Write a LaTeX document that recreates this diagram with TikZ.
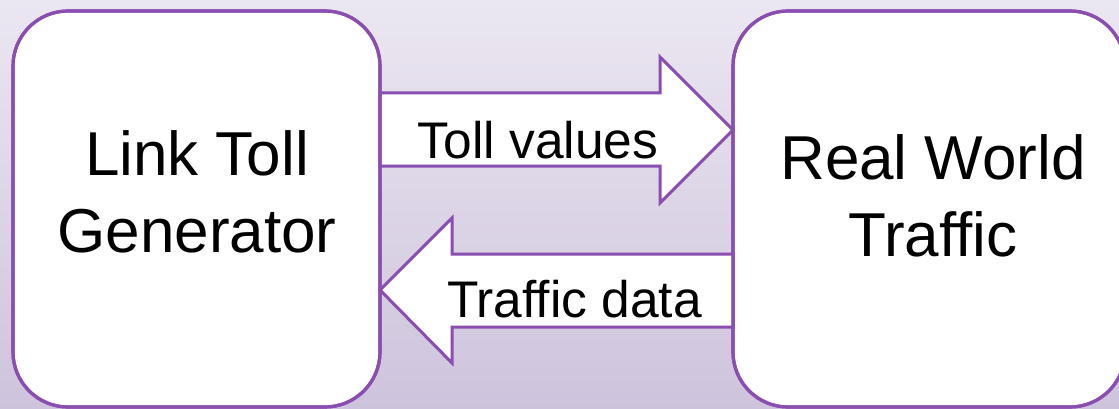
\documentclass[tikz,border=0pt]{standalone}
\usepackage{fontspec}
\setmainfont{Liberation Sans}
\usetikzlibrary{calc}
\definecolor{bord}{HTML}{8A4DB0}
\definecolor{bgtop}{HTML}{EBE7F1}
\definecolor{bgbot}{HTML}{CEC3DC}
\tikzset{
  box/.style={draw=bord, line width=3.2pt, fill=white, rounded corners=55pt, inner sep=0pt, outer sep=0pt},
  boxtext/.style={font=\fontsize{62}{77}\selectfont, align=center, inner sep=0pt},
  arrtext/.style={font=\fontsize{51.5}{60}\selectfont, inner sep=0pt},
  bigarrow/.style={draw=bord, line width=3pt, fill=white, line join=miter}
}
\begin{document}
\begin{tikzpicture}[x=1pt, y=-1pt]
\useasboundingbox (0,0) rectangle (1119,409);
\clip (0,0) rectangle (1119,409);
\shade[top color=bgtop, bottom color=bgbot] (0,0) rectangle (1119,409);
% boxes
\node[box, minimum width=367pt, minimum height=396pt] (lt) at (196.5,209) {};
\node[box, minimum width=392pt, minimum height=396pt] (rw) at (929,209) {};
% arrows
\draw[bigarrow] (lt.east |- 0,93) -- (660,93) -- (660,57) -- (rw.west |- 0,130)
  -- (660,203) -- (660,166) -- (lt.east |- 0,166) -- cycle;
\draw[bigarrow] (rw.west |- 0,254) -- (452,254) -- (452,218) -- (lt.east |- 0,290)
  -- (452,363) -- (452,327) -- (rw.west |- 0,327) -- cycle;
% box borders on top
\draw[draw=bord, line width=3.2pt, rounded corners=55pt] (lt.south west) rectangle (lt.north east);
\draw[draw=bord, line width=3.2pt, rounded corners=55pt] (rw.south west) rectangle (rw.north east);
% texts (base anchor = baseline of last line)
\node[boxtext, anchor=base] (ltt) at (197,252) {Link Toll\\Generator};
\node[boxtext, anchor=base] (rwt) at (933,256) {Real World\\Traffic};
\node[arrtext, anchor=base] (tv) at (538,158) {Toll values};
\node[arrtext, anchor=base] (td) at (574.5,317) {Traffic data};
\end{tikzpicture}
\end{document}
